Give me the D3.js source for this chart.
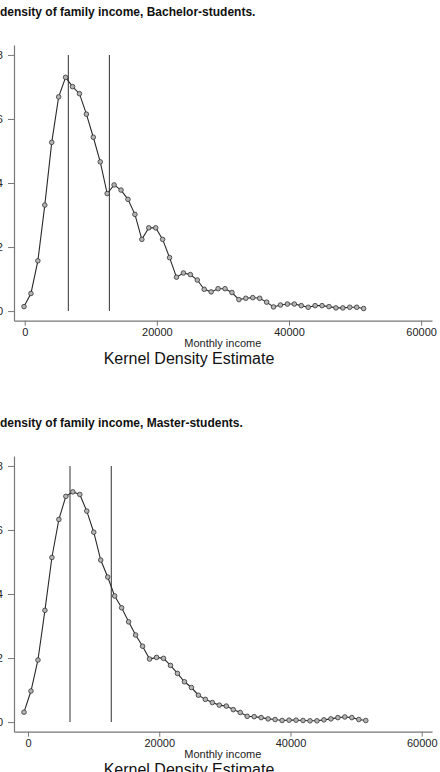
<!DOCTYPE html>
<html>
<head>
<meta charset="utf-8">
<script src="https://cdn.jsdelivr.net/npm/d3@7"></script>
<style>
  body { margin: 0; background: #fff; }
  svg { display: block; font-family: "Liberation Sans", Arial, sans-serif; }
</style>
</head>
<body>
<svg id="chart" width="440" height="772"></svg>
<script>
// evaluation points (monthly income) and density (x 1e-5)
const incomeBach = [-106, 943, 1992, 3041, 4090, 5139, 6188, 7237, 8286, 9335,
  10384, 11433, 12482, 13531, 14580, 15629, 16678, 17727, 18776, 19825,
  20874, 21923, 22972, 24021, 25070, 26119, 27168, 28217, 29266, 30315,
  31364, 32413, 33462, 34511, 35560, 36609, 37658, 38707, 39756, 40805,
  41854, 42903, 43952, 45001, 46050, 47099, 48148, 49197, 50246, 51295];
const densityBach = [0.14, 0.55, 1.57, 3.31, 5.27, 6.69, 7.30, 7.01, 6.79, 6.15,
  5.43, 4.66, 3.67, 3.94, 3.78, 3.49, 3.02, 2.24, 2.60, 2.60,
  2.24, 1.67, 1.06, 1.19, 1.14, 0.97, 0.68, 0.60, 0.70, 0.70,
  0.58, 0.36, 0.40, 0.42, 0.40, 0.28, 0.13, 0.19, 0.22, 0.22,
  0.17, 0.12, 0.17, 0.17, 0.14, 0.10, 0.10, 0.12, 0.12, 0.08];
const linesBach = [6606, 12818];

const incomeMast = [-610, 453, 1516, 2579, 3642, 4705, 5768, 6831, 7894, 8957,
  10020, 11083, 12146, 13209, 14272, 15335, 16398, 17461, 18524, 19587,
  20650, 21713, 22776, 23839, 24902, 25965, 27028, 28091, 29154, 30217,
  31280, 32343, 33406, 34469, 35532, 36595, 37658, 38721, 39784, 40847,
  41910, 42973, 44036, 45099, 46162, 47225, 48288, 49351, 50414, 51477];
const densityMast = [0.31, 0.97, 1.94, 3.49, 5.14, 6.33, 7.05, 7.19, 7.11, 6.59,
  5.93, 5.06, 4.53, 3.94, 3.57, 3.13, 2.72, 2.37, 1.97, 2.02,
  1.99, 1.77, 1.52, 1.26, 1.08, 0.84, 0.71, 0.61, 0.53, 0.50,
  0.39, 0.30, 0.18, 0.17, 0.14, 0.10, 0.08, 0.05, 0.06, 0.06,
  0.05, 0.04, 0.04, 0.07, 0.10, 0.14, 0.16, 0.14, 0.08, 0.05];
const linesMast = [6400, 12694];

const xTicks = [0, 20000, 40000, 60000];
const yTicks = [0, 2, 4, 6, 8];
const yTickLabels = ["0", ".00002", ".00004", ".00006", ".00008"];

const titles = ["density of family income, Bachelor-students.",
                "density of family income, Master-students."];

const svg = d3.select("#chart");

function drawPanel(top, xDomain, xs, ys, vlines, title) {
  const g = svg.append("g").attr("transform", "translate(0," + top + ")");
  const x = d3.scaleLinear().domain(xDomain).range([14, 432]);
  const y = d3.scaleLinear().domain([-0.30, 8.31]).range([320.7, 45]);

  // title
  g.append("text")
    .attr("x", 0).attr("y", 15.8)
    .style("font-size", "12px").style("font-weight", "bold")
    .style("fill", "#111")
    .text(title);

  // axes
  const yAxis = d3.axisLeft(y).tickValues(yTicks).tickSize(6).tickSizeOuter(0)
    .tickPadding(5).tickFormat((d, i) => yTickLabels[i]);
  const xAxis = d3.axisBottom(x).tickValues(xTicks).tickSize(5).tickSizeOuter(0)
    .tickPadding(3).tickFormat(d3.format("d"));

  const ya = g.append("g").attr("transform", "translate(14,0)").call(yAxis);
  const xa = g.append("g").attr("transform", "translate(0,320.7)").call(xAxis);
  [ya, xa].forEach(a => {
    a.select(".domain").attr("stroke", "#777").attr("stroke-width", 1.2);
    a.selectAll(".tick line").attr("stroke", "#777");
    a.selectAll(".tick text").style("font-size", "11px").attr("fill", "#222")
      .style("font-family", "Liberation Sans, Arial, sans-serif");
  });

  // vertical reference lines
  g.selectAll(".vline").data(vlines).enter().append("line")
    .attr("x1", d => x(d)).attr("x2", d => x(d))
    .attr("y1", y(8)).attr("y2", y(0))
    .attr("stroke", "#444").attr("stroke-width", 1.1);

  // density line
  const pts = xs.map((v, i) => [v, ys[i]]);
  g.append("path").datum(pts)
    .attr("fill", "none").attr("stroke", "#2a2a2a").attr("stroke-width", 1.1)
    .attr("d", d3.line().x(d => x(d[0])).y(d => y(d[1])));

  g.selectAll(".pt").data(pts).enter().append("circle")
    .attr("cx", d => x(d[0])).attr("cy", d => y(d[1])).attr("r", 2.3)
    .attr("fill", "#b4b4b4").attr("stroke", "#333").attr("stroke-width", 0.8);

  // axis title and note
  g.append("text").attr("x", 222.8).attr("y", 347.2).attr("text-anchor", "middle")
    .style("font-size", "11px").style("fill", "#222").text("Monthly income");
  g.append("text").attr("x", 189).attr("y", 363.5).attr("text-anchor", "middle")
    .style("font-size", "16px").style("fill", "#111").text("Kernel Density Estimate");
}

drawPanel(0, [-1620, 61640], incomeBach, densityBach, linesBach, titles[0]);
drawPanel(411, [-2134, 61568], incomeMast, densityMast, linesMast, titles[1]);
</script>
</body>
</html>
